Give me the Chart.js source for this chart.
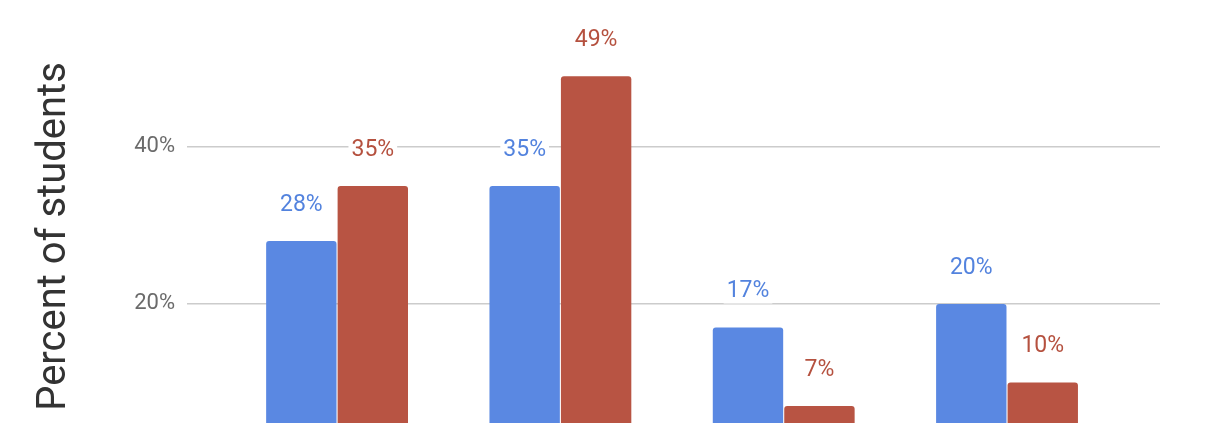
<!DOCTYPE html>
<html>
<head>
<meta charset="utf-8">
<script src="https://cdn.jsdelivr.net/npm/chart.js@4"></script>
<style>
  html, body { margin: 0; padding: 0; background: #fff; overflow: hidden; }
  #wrap { width: 1210px; height: 480px; }
</style>
</head>
<body>
<div id="wrap"><canvas id="c" width="1210" height="480"></canvas></div>
<script>
const categories = ["Group 1", "Group 2", "Group 3", "Group 4"];
const seriesBlue = [28, 35, 17, 20];
const seriesRed = [35, 49, 7, 10];
const tickValues = [0, 20, 40];

const blue = "#5a88e2";
const red = "#b85443";

const toPoints = arr => arr.map((v, i) => ({ x: i, y: v }));

const labelPlugin = {
  id: "barLabels",
  afterDatasetsDraw(chart) {
    const ctx = chart.ctx;
    ctx.save();
    ctx.font = "23px Roboto";
    ctx.textAlign = "center";
    ctx.textBaseline = "middle";
    chart.data.datasets.forEach((ds, di) => {
      const meta = chart.getDatasetMeta(di);
      meta.data.forEach((el, i) => {
        const txt = ds.data[i].y + "%";
        const w = ctx.measureText(txt).width + 6;
        const x = el.x, y = el.y - 36;
        ctx.fillStyle = "#ffffff";
        ctx.fillRect(x - w / 2, y - 12, w, 24);
        ctx.fillStyle = ds.labelColor;
        ctx.fillText(txt, x, y);
      });
    });
    ctx.restore();
  }
};

new Chart(document.getElementById("c"), {
  type: "bar",
  data: {
    labels: categories,
    datasets: [
      { label: "A", data: toPoints(seriesBlue), backgroundColor: blue, labelColor: "#5383de",
        borderRadius: { topLeft: 3, topRight: 3 }, borderSkipped: "bottom" },
      { label: "B", data: toPoints(seriesRed), backgroundColor: red, labelColor: "#b5513f",
        borderRadius: { topLeft: 3, topRight: 3 }, borderSkipped: "bottom" }
    ]
  },
  options: {
    responsive: false,
    animation: false,
    devicePixelRatio: 1,
    layout: { padding: { left: 0, right: 50, top: 12, bottom: 19 } },
    plugins: { legend: { display: false }, tooltip: { enabled: false } },
    datasets: { bar: { categoryPercentage: 0.64, barPercentage: 0.985 } },
    scales: {
      x: {
        type: "linear",
        offset: false,
        min: -0.672,
        max: 3.685,
        display: false,
        afterBuildTicks: s => { s.ticks = categories.map((c, i) => ({ value: i })); },
        grid: { display: false, offset: false }
      },
      y: {
        min: 0,
        max: 57.17,
        afterBuildTicks: s => { s.ticks = tickValues.map(v => ({ value: v })); },
        afterFit: s => { s.width = 187; s.paddingTop = 0; s.paddingBottom = 0; },
        border: { display: false },
        grid: { color: "#cccccc", lineWidth: 1.5, drawTicks: false },
        ticks: {
          padding: 12,
          color: "#6b6b6b",
          font: { family: "Roboto", size: 22 },
          callback: v => v + "%"
        },
        title: {
          display: true,
          text: "Percent of students",
          color: "#333333",
          font: { family: "Roboto", size: 40 },
          padding: { top: 31, bottom: 0 }
        }
      }
    }
  },
  plugins: [labelPlugin]
});
</script>
</body>
</html>
